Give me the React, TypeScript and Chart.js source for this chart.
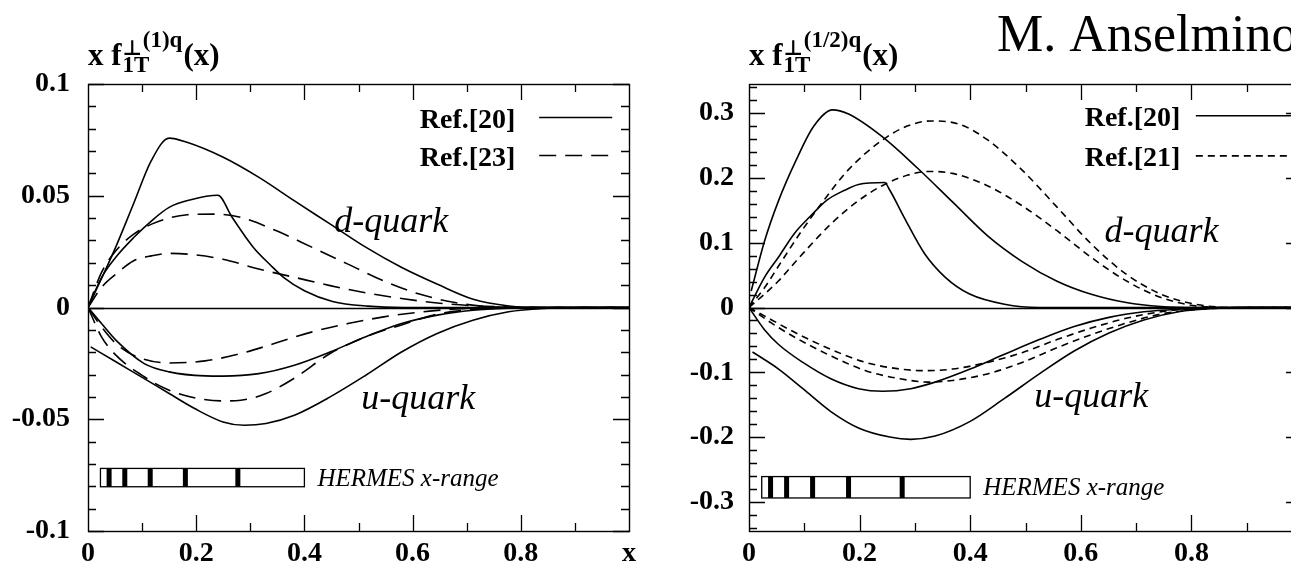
import React, { useEffect, useRef } from "react";
import { Chart, registerables } from "chart.js";

Chart.register(...registerables);

type Pt = [number, number];

// ---------------- Left panel: x f_1T^{perp(1)q}(x) ----------------
// Ref.[20] (solid)
const leftD20Peak: Pt[] = [
  [0, 0], [0.051, 0.0269], [0.084, 0.0463], [0.117, 0.0657], [0.15, 0.0758], [0.183, 0.0739],
  [0.25, 0.0672], [0.316, 0.0582], [0.381, 0.0478], [0.448, 0.0373], [0.514, 0.0269],
  [0.58, 0.0179], [0.646, 0.0104], [0.712, 0.0037], [0.778, 0.0007], [0.844, 0], [1, 0],
];
const leftD20Kink: Pt[] = [
  [0, 0], [0.025, 0.0134], [0.051, 0.0224], [0.0845, 0.0313], [0.1175, 0.0388], [0.15, 0.0448],
  [0.19, 0.0482], [0.24, 0.0502], [0.266, 0.0405], [0.305, 0.0271], [0.338, 0.0188],
  [0.362, 0.0134], [0.4, 0.0075], [0.452, 0.0027], [0.517, 0.0006], [0.585, 0], [1, 0],
];
const leftU20Deep: Pt[] = [
  [0.005, -0.0176], [0.0515, -0.0243], [0.104, -0.0318], [0.15, -0.0385], [0.197, -0.0452],
  [0.2495, -0.0512], [0.289, -0.0527], [0.329, -0.0519], [0.3815, -0.0482], [0.4475, -0.04],
  [0.5135, -0.0303], [0.5795, -0.0199], [0.6455, -0.0116], [0.7115, -0.0057], [0.7775, -0.0019],
  [0.8435, -0.0004], [0.91, 0], [1, 0],
];
const leftU20Shallow: Pt[] = [
  [0, 0], [0.025, -0.0072], [0.0515, -0.0146], [0.104, -0.0251], [0.15, -0.0288], [0.2165, -0.0306],
  [0.2495, -0.0307], [0.3155, -0.0296], [0.3815, -0.0258], [0.4475, -0.0199], [0.5135, -0.0131],
  [0.5795, -0.0072], [0.6455, -0.0034], [0.7115, -0.0012], [0.7775, -0.0003], [0.85, 0], [1, 0],
];
// Ref.[23] (long dashes)
const leftD23Upper: Pt[] = [
  [0, 0], [0.025, 0.0157], [0.0515, 0.0254], [0.0845, 0.0328], [0.1175, 0.0373], [0.1835, 0.0415],
  [0.236, 0.0418], [0.2825, 0.0403], [0.3485, 0.0343], [0.4145, 0.0269], [0.4805, 0.0194],
  [0.5465, 0.0119], [0.6125, 0.006], [0.6785, 0.0022], [0.7445, 0.0003], [0.8, 0], [1, 0],
];
const leftD23Lower: Pt[] = [
  [0, 0], [0.025, 0.009], [0.0515, 0.0149], [0.0845, 0.0209], [0.1175, 0.0231], [0.15, 0.0242],
  [0.1835, 0.0239], [0.2495, 0.0216], [0.3155, 0.0172], [0.3815, 0.0135], [0.4475, 0.0098],
  [0.5135, 0.0066], [0.5795, 0.004], [0.6455, 0.002], [0.7115, 0.0008], [0.78, 0.0002], [0.85, 0], [1, 0],
];
const leftU23Shallow: Pt[] = [
  [0, 0], [0.025, -0.0087], [0.0515, -0.0161], [0.091, -0.0221], [0.15, -0.0248], [0.2165, -0.0239],
  [0.2825, -0.0206], [0.3485, -0.0158], [0.4145, -0.0109], [0.4805, -0.0072], [0.5465, -0.0042],
  [0.6125, -0.0021], [0.6785, -0.0007], [0.7445, 0], [1, 0],
];
const leftU23Deep: Pt[] = [
  [0, 0], [0.025, -0.0131], [0.0515, -0.0213], [0.104, -0.031], [0.15, -0.037], [0.203, -0.0407],
  [0.2495, -0.0418], [0.2825, -0.0415], [0.329, -0.0385], [0.3815, -0.0316], [0.4475, -0.0206],
  [0.5135, -0.0131], [0.5795, -0.0078], [0.6455, -0.003], [0.7115, -0.0009], [0.7775, -0.0001],
  [0.85, 0], [1, 0],
];

// ---------------- Right panel: x f_1T^{perp(1/2)q}(x) ----------------
// Ref.[20] (solid)
const rightD20Peak: Pt[] = [
  [0.004, 0.0255], [0.0283, 0.103], [0.0535, 0.165], [0.085, 0.227], [0.1164, 0.279], [0.151, 0.305],
  [0.179, 0.299], [0.242, 0.263], [0.305, 0.215], [0.368, 0.163], [0.431, 0.111], [0.494, 0.0709],
  [0.557, 0.0405], [0.619, 0.0203], [0.682, 0.0076], [0.745, 0.0015], [0.808, 0], [1, 0],
];
const rightD20Kink: Pt[] = [
  [0, 0], [0.028, 0.0465], [0.0535, 0.078], [0.0818, 0.114], [0.11, 0.14], [0.1415, 0.166],
  [0.173, 0.181], [0.198, 0.19], [0.245, 0.193], [0.2547, 0.181], [0.28, 0.14], [0.3176, 0.083],
  [0.355, 0.0466], [0.399, 0.0207], [0.462, 0.005], [0.525, 0], [1, 0],
];
const rightU20Deep: Pt[] = [
  [0.0063, -0.0687], [0.0535, -0.095], [0.0975, -0.1253], [0.148, -0.1606], [0.198, -0.1859],
  [0.2547, -0.2], [0.2925, -0.2035], [0.3365, -0.1985], [0.4, -0.1758], [0.462, -0.1404],
  [0.525, -0.1025], [0.588, -0.0672], [0.651, -0.0394], [0.714, -0.0192], [0.777, -0.0066],
  [0.84, -0.0015], [0.9025, 0], [1, 0],
];
const rightU20Shallow: Pt[] = [
  [0, 0], [0.028, -0.0343], [0.0535, -0.0571], [0.0975, -0.0848], [0.148, -0.11], [0.198, -0.1253],
  [0.242, -0.1293], [0.2925, -0.1253], [0.3365, -0.1152], [0.4, -0.095], [0.462, -0.0722],
  [0.525, -0.0495], [0.588, -0.0293], [0.651, -0.0152], [0.714, -0.0066], [0.777, -0.0025],
  [0.84, -0.0005], [0.9, 0], [1, 0],
];
// Ref.[21] (short dashes)
const rightD21Upper: Pt[] = [
  [0, 0], [0.028, 0.0305], [0.0535, 0.064], [0.091, 0.113], [0.135, 0.165], [0.179, 0.212],
  [0.242, 0.259], [0.286, 0.28], [0.33, 0.288], [0.38, 0.283], [0.431, 0.259], [0.494, 0.212],
  [0.557, 0.155], [0.619, 0.098], [0.682, 0.0515], [0.745, 0.0206], [0.808, 0.005], [0.871, 0], [1, 0],
];
const rightD21Lower: Pt[] = [
  [0, 0], [0.028, 0.0206], [0.0535, 0.0412], [0.091, 0.0773], [0.148, 0.1288], [0.198, 0.165],
  [0.245, 0.19], [0.286, 0.204], [0.324, 0.21], [0.368, 0.207], [0.431, 0.188], [0.494, 0.157],
  [0.557, 0.1185], [0.619, 0.0773], [0.682, 0.0412], [0.745, 0.0155], [0.808, 0.0025], [0.871, 0], [1, 0],
];
const rightU21Shallow: Pt[] = [
  [0, 0], [0.041, -0.0192], [0.085, -0.0394], [0.148, -0.0646], [0.211, -0.0848], [0.2736, -0.095],
  [0.3176, -0.0975], [0.368, -0.095], [0.431, -0.0848], [0.494, -0.0697], [0.557, -0.0495],
  [0.619, -0.0318], [0.682, -0.0167], [0.745, -0.0066], [0.808, -0.0015], [0.87, 0], [1, 0],
];
const rightU21Deep: Pt[] = [
  [0, 0], [0.041, -0.0242], [0.085, -0.047], [0.148, -0.0747], [0.211, -0.0975], [0.2736, -0.11],
  [0.324, -0.1152], [0.368, -0.1126], [0.431, -0.1025], [0.494, -0.0848], [0.557, -0.0621],
  [0.619, -0.0419], [0.682, -0.0242], [0.745, -0.0101], [0.808, -0.003], [0.871, -0.0005], [0.93, 0], [1, 0],
];

// ---------------- Axes / ticks ----------------
const X_TICKS = [0, 0.2, 0.4, 0.6, 0.8, 1];
const X_TICK_LABELS = ["0", "0.2", "0.4", "0.6", "0.8", "x"];
const LEFT_Y_TICKS = [-0.1, -0.05, 0, 0.05, 0.1];
const LEFT_Y_TICK_LABELS = ["-0.1", "-0.05", "0", "0.05", "0.1"];
const RIGHT_Y_TICKS = [-0.3, -0.2, -0.1, 0, 0.1, 0.2, 0.3];
const RIGHT_Y_TICK_LABELS = ["-0.3", "-0.2", "-0.1", "0", "0.1", "0.2", "0.3"];

// ---------------- HERMES x-range ----------------
const HERMES_RANGE = [0.023, 0.4];
const HERMES_BINS = [0.039, 0.068, 0.115, 0.18, 0.277];

const LONG_DASH = [17, 9];
const SHORT_DASH = [7, 5];

type PanelDecor = {
  yMinorStep: number;
  yMajorStep: number;
  titleSup: string;
  legend: { label: string; dash: number[]; y: number }[];
  legendX: [number, number, number];
  dLabel: [number, number];
  uLabel: [number, number];
  hermesY: [number, number];
  signature?: boolean;
};

const SERIF = '"Liberation Serif", "Times New Roman", serif';

function near(a: number, step: number) {
  const r = a / step;
  return Math.abs(r - Math.round(r)) < 1e-6;
}

const decorPlugin = {
  id: "decor",
  afterDraw(chart: any, _args: any, opts: PanelDecor) {
    const { ctx, chartArea: a, scales } = chart;
    const xs = scales.x;
    const ys = scales.y;
    ctx.save();
    ctx.strokeStyle = "#000";
    ctx.fillStyle = "#000";
    ctx.setLineDash([]);

    // zero line
    ctx.lineWidth = 1.3;
    const y0 = Math.round(ys.getPixelForValue(0)) + 0.5;
    ctx.beginPath();
    ctx.moveTo(a.left, y0);
    ctx.lineTo(a.right, y0);
    ctx.stroke();

    // frame
    ctx.lineWidth = 1.4;
    ctx.strokeRect(a.left + 0.5, a.top + 0.5, a.right - a.left, a.bottom - a.top);

    // x ticks (inward, top and bottom)
    ctx.lineWidth = 1.3;
    for (let i = 1; i < 10; i++) {
      const v = i / 10;
      const px = Math.round(xs.getPixelForValue(v)) + 0.5;
      const len = i % 2 === 0 ? 16 : 8;
      ctx.beginPath();
      ctx.moveTo(px, a.bottom);
      ctx.lineTo(px, a.bottom - len);
      ctx.moveTo(px, a.top);
      ctx.lineTo(px, a.top + len);
      ctx.stroke();
    }
    // y ticks (inward, left and right)
    const n0 = Math.ceil(ys.min / opts.yMinorStep - 1e-6);
    const n1 = Math.floor(ys.max / opts.yMinorStep + 1e-6);
    for (let k = n0; k <= n1; k++) {
      const v = k * opts.yMinorStep;
      const py = Math.round(ys.getPixelForValue(v)) + 0.5;
      const len = near(v, opts.yMajorStep) ? 16 : 8;
      ctx.beginPath();
      ctx.moveTo(a.left, py);
      ctx.lineTo(a.left + len, py);
      ctx.moveTo(a.right, py);
      ctx.lineTo(a.right - len, py);
      ctx.stroke();
    }

    // HERMES box
    const bx0 = xs.getPixelForValue(HERMES_RANGE[0]);
    const bx1 = xs.getPixelForValue(HERMES_RANGE[1]);
    const by0 = ys.getPixelForValue(opts.hermesY[0]);
    const by1 = ys.getPixelForValue(opts.hermesY[1]);
    ctx.fillStyle = "#fff";
    ctx.fillRect(bx0, by0, bx1 - bx0, by1 - by0);
    ctx.lineWidth = 1.3;
    ctx.strokeRect(bx0, by0, bx1 - bx0, by1 - by0);
    ctx.fillStyle = "#000";
    for (const b of HERMES_BINS) {
      const px = xs.getPixelForValue(b);
      ctx.fillRect(px - 2.5, by0, 5, by1 - by0);
    }
    ctx.font = `italic 25px ${SERIF}`;
    ctx.textAlign = "left";
    ctx.textBaseline = "alphabetic";
    ctx.fillText("HERMES x-range", bx1 + 13, (by0 + by1) / 2 + 8);

    // legend
    for (const item of opts.legend) {
      const py = ys.getPixelForValue(item.y);
      ctx.font = `bold 28px ${SERIF}`;
      ctx.textAlign = "right";
      ctx.fillText(item.label, xs.getPixelForValue(opts.legendX[0]), py + 10);
      ctx.setLineDash(item.dash);
      ctx.lineWidth = 1.6;
      ctx.beginPath();
      ctx.moveTo(xs.getPixelForValue(opts.legendX[1]), py);
      ctx.lineTo(xs.getPixelForValue(opts.legendX[2]), py);
      ctx.stroke();
      ctx.setLineDash([]);
    }

    // quark labels
    ctx.font = `italic 36px ${SERIF}`;
    ctx.textAlign = "left";
    ctx.fillText("d-quark", xs.getPixelForValue(opts.dLabel[0]), ys.getPixelForValue(opts.dLabel[1]));
    ctx.fillText("u-quark", xs.getPixelForValue(opts.uLabel[0]), ys.getPixelForValue(opts.uLabel[1]));

    // axis title  x f_{1T}^{perp(..)q}(x)
    const tx = a.left;
    const base = 65;
    ctx.font = `bold 31px ${SERIF}`;
    ctx.fillText("x f", tx, base);
    const fx = tx + ctx.measureText("x f").width + 1;
    ctx.font = `bold 23px ${SERIF}`;
    const subW = ctx.measureText("1T").width;
    ctx.fillText("1T", fx, base + 7);
    ctx.font = `bold 21px "DejaVu Sans", sans-serif`;
    const pw = ctx.measureText("\u22A5").width;
    ctx.fillText("\u22A5", fx, base - 10);
    ctx.font = `bold 23px ${SERIF}`;
    const supX = fx + pw + 1;
    ctx.fillText(opts.titleSup, supX, base - 18);
    const supW = ctx.measureText(opts.titleSup).width;
    ctx.font = `bold 31px ${SERIF}`;
    ctx.fillText("(x)", Math.max(supX + supW, fx + subW) + 1, base);

    if (opts.signature) {
      ctx.font = `52px ${SERIF}`;
      ctx.textAlign = "left";
      ctx.fillText("M. Anselmino", 347, 51);
    }
    ctx.restore();
  },
};

type PanelProps = {
  left: number;
  width: number;
  curves: { data: Pt[]; dash: number[] }[];
  yRange: [number, number];
  yTicks: number[];
  yTickLabels: string[];
  yAxisWidth: number;
  yLabelPad: number;
  padRight: number;
  decor: PanelDecor;
};

function Panel(p: PanelProps) {
  const ref = useRef<HTMLCanvasElement | null>(null);
  useEffect(() => {
    if (!ref.current) return;
    const tickFont = { family: SERIF, size: 28, weight: "bold" as const };
    const chart = new Chart(ref.current, {
      type: "scatter",
      data: {
        datasets: p.curves.map((c) => ({
          data: c.data.map(([x, y]) => ({ x, y })),
          showLine: true,
          borderColor: "#000",
          borderWidth: 1.6,
          borderDash: c.dash,
          pointRadius: 0,
          pointHoverRadius: 0,
          cubicInterpolationMode: "monotone" as const,
          fill: false,
        })),
      },
      options: {
        responsive: false,
        animation: false,
        devicePixelRatio: 1,
        events: [],
        layout: { padding: { top: 84, right: p.padRight, left: 0, bottom: 0 } },
        plugins: {
          legend: { display: false },
          tooltip: { enabled: false },
          decor: p.decor,
        } as any,
        scales: {
          x: {
            type: "linear",
            min: 0,
            max: 1,
            afterBuildTicks: (s: any) => {
              s.ticks = X_TICKS.map((v) => ({ value: v }));
            },
            afterFit: (s: any) => {
              s.height = 42;
            },
            ticks: {
              autoSkip: false,
              maxRotation: 0,
              padding: 6,
              color: "#000",
              font: tickFont,
              callback: (_v: any, i: number) => X_TICK_LABELS[i],
            },
            grid: { display: false, drawTicks: false },
            border: { display: false },
          },
          y: {
            type: "linear",
            min: p.yRange[0],
            max: p.yRange[1],
            afterBuildTicks: (s: any) => {
              s.ticks = p.yTicks.map((v) => ({ value: v }));
            },
            afterFit: (s: any) => {
              s.width = p.yAxisWidth;
            },
            ticks: {
              autoSkip: false,
              padding: p.yLabelPad,
              color: "#000",
              font: tickFont,
              callback: (_v: any, i: number) => p.yTickLabels[i],
            },
            grid: { display: false, drawTicks: false },
            border: { display: false },
          },
        },
      },
      plugins: [decorPlugin as any],
    });
    return () => chart.destroy();
  }, []);
  return (
    <canvas
      ref={ref}
      width={p.width}
      height={573}
      style={{ position: "absolute", left: p.left, top: 0, width: p.width, height: 573 }}
    />
  );
}

export default function App() {
  return (
    <div
      style={{
        position: "fixed",
        left: 0,
        top: 0,
        width: 1291,
        height: 573,
        overflow: "hidden",
        background: "#fff",
      }}
    >
      <Panel
        left={0}
        width={650}
        curves={[
          { data: leftD20Peak, dash: [] },
          { data: leftD20Kink, dash: [] },
          { data: leftU20Deep, dash: [] },
          { data: leftU20Shallow, dash: [] },
          { data: leftD23Upper, dash: LONG_DASH },
          { data: leftD23Lower, dash: LONG_DASH },
          { data: leftU23Shallow, dash: LONG_DASH },
          { data: leftU23Deep, dash: LONG_DASH },
        ]}
        yRange={[-0.1, 0.1]}
        yTicks={LEFT_Y_TICKS}
        yTickLabels={LEFT_Y_TICK_LABELS}
        yAxisWidth={88}
        yLabelPad={18}
        padRight={21}
        decor={{
          yMinorStep: 0.01,
          yMajorStep: 0.05,
          titleSup: "(1)q",
          legend: [
            { label: "Ref.[20]", dash: [], y: 0.085 },
            { label: "Ref.[23]", dash: LONG_DASH, y: 0.068 },
          ],
          legendX: [0.79, 0.834, 0.969],
          dLabel: [0.455, 0.034],
          uLabel: [0.505, -0.0455],
          hermesY: [-0.072, -0.0802],
        }}
      />
      <Panel
        left={650}
        width={680}
        curves={[
          { data: rightD20Peak, dash: [] },
          { data: rightD20Kink, dash: [] },
          { data: rightU20Deep, dash: [] },
          { data: rightU20Shallow, dash: [] },
          { data: rightD21Upper, dash: SHORT_DASH },
          { data: rightD21Lower, dash: SHORT_DASH },
          { data: rightU21Shallow, dash: SHORT_DASH },
          { data: rightU21Deep, dash: SHORT_DASH },
        ]}
        yRange={[-0.345, 0.345]}
        yTicks={RIGHT_Y_TICKS}
        yTickLabels={RIGHT_Y_TICK_LABELS}
        yAxisWidth={99}
        yLabelPad={15}
        padRight={28}
        decor={{
          yMinorStep: 0.02,
          yMajorStep: 0.1,
          titleSup: "(1/2)q",
          legend: [
            { label: "Ref.[20]", dash: [], y: 0.296 },
            { label: "Ref.[21]", dash: SHORT_DASH, y: 0.234 },
          ],
          legendX: [0.78, 0.808, 0.98],
          dLabel: [0.643, 0.101],
          uLabel: [0.516, -0.154],
          hermesY: [-0.261, -0.294],
          signature: true,
        }}
      />
    </div>
  );
}
